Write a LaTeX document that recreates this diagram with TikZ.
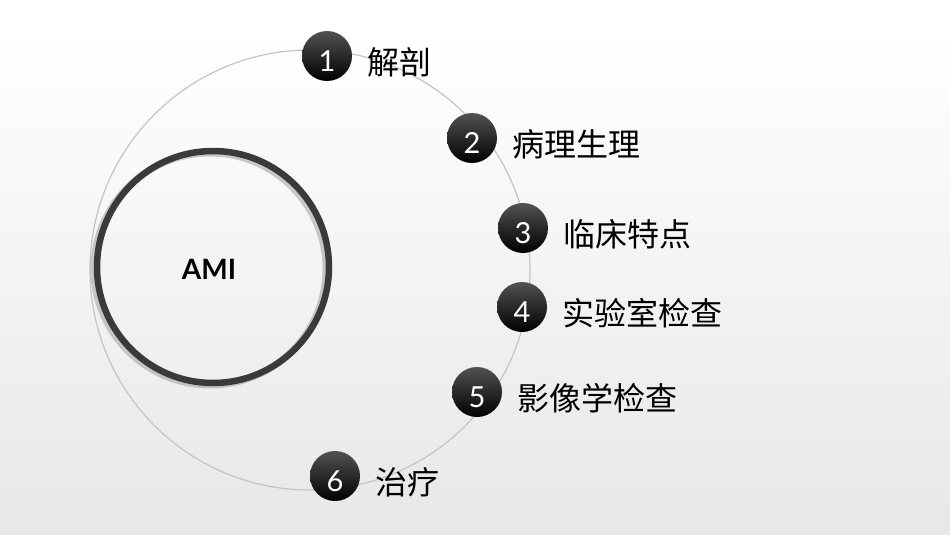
\documentclass[tikz,border=0pt]{standalone}
\usepackage{fontspec}
\setmainfont{Lato}
\newfontfamily\cjk{Noto Sans CJK SC}
\usetikzlibrary{positioning}
\definecolor{bgbot}{RGB}{230,231,233}
\definecolor{ringgray}{RGB}{196,196,196}
\definecolor{ringdark}{RGB}{58,58,58}

\begin{document}
\begin{tikzpicture}[x=1pt,y=-1pt,
  num/.style={circle,minimum size=50pt,inner sep=0pt,top color=black!68,bottom color=black,
    text=white,text height=30pt,text depth=0pt,font=\fontsize{29}{29}\selectfont},
  lbl/.style={inner sep=0pt,yshift=-6pt,font=\cjk\fontsize{32}{32}\selectfont}]
\fill[white] (0,0) rectangle (950,35);
\shade[top color=white,bottom color=bgbot] (0,35) rectangle (950,535);
\coordinate (O) at (310,270);
\draw[ringgray,line width=1.2pt] (O) circle[radius=220];
\coordinate (C) at (213,267);
\draw[black!40,line width=7pt,opacity=0.5] (210,269) circle[radius=116];
\draw[ringdark,line width=6.5pt] (C) circle[radius=116];
\node[font=\bfseries\fontsize{28}{28}\selectfont] (ami) at (209,269) {AMI};
\node[num] (n1) at (327,56) {1};
\node[num] (n2) at (472,138) {2};
\node[num] (n3) at (523,228) {3};
\node[num] (n4) at (522,307) {4};
\node[num] (n5) at (477,392) {5};
\node[num] (n6) at (335,476) {6};
\node[lbl,right=15pt of n1] (l1) {解剖};
\node[lbl,right=15pt of n2] (l2) {病理生理};
\node[lbl,right=15pt of n3] (l3) {临床特点};
\node[lbl,right=15pt of n4] (l4) {实验室检查};
\node[lbl,right=15pt of n5] (l5) {影像学检查};
\node[lbl,right=15pt of n6] (l6) {治疗};
\end{tikzpicture}
\end{document}
